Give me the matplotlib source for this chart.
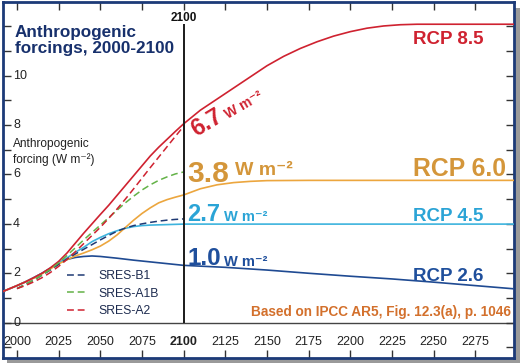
"""
Anthropogenic forcing pathways (RCPs and SRES), redrawn after IPCC AR5 Fig. 12.3(a).
"""
import numpy as np
import matplotlib
matplotlib.use("Agg")
import matplotlib.pyplot as plt
from matplotlib.patches import Rectangle

FONT = ["Liberation Sans", "DejaVu Sans"]

# ── data ───────────────────────────────────────────────────────────────────
rcp85_years = [1990, 2000, 2005, 2010, 2015, 2020, 2025, 2030, 2035, 2040, 2045,
               2050, 2055, 2060, 2065, 2070, 2075, 2080, 2085, 2090, 2095, 2100,
               2110, 2120, 2130, 2140, 2150, 2160, 2170, 2180, 2190, 2200, 2210,
               2220, 2230, 2240, 2250, 2300]
rcp85 = [1.22, 1.50, 1.65, 1.82, 2.00, 2.22, 2.48, 2.82, 3.22, 3.62, 4.00,
         4.38, 4.75, 5.15, 5.55, 5.95, 6.35, 6.75, 7.10, 7.42, 7.74, 8.05,
         8.60, 9.05, 9.50, 9.95, 10.40, 10.78, 11.10, 11.37, 11.60, 11.78, 11.92,
         12.01, 12.06, 12.08, 12.08, 12.08]

rcp60_years = [1990, 2000, 2005, 2010, 2015, 2020, 2025, 2030, 2035, 2040, 2045,
               2050, 2055, 2060, 2065, 2070, 2075, 2080, 2085, 2090, 2095, 2100,
               2110, 2120, 2130, 2140, 2150, 2175, 2300]
rcp60 = [1.22, 1.50, 1.65, 1.80, 1.98, 2.18, 2.38, 2.55, 2.70, 2.82, 2.95,
         3.10, 3.30, 3.55, 3.85, 4.15, 4.42, 4.65, 4.85, 4.98, 5.08, 5.17,
         5.42, 5.58, 5.67, 5.72, 5.75, 5.76, 5.76]

rcp45_years = [1990, 2000, 2005, 2010, 2015, 2020, 2025, 2030, 2035, 2040, 2045,
               2050, 2055, 2060, 2065, 2070, 2075, 2080, 2090, 2100, 2300]
rcp45 = [1.22, 1.50, 1.65, 1.82, 2.00, 2.20, 2.42, 2.62, 2.85, 3.05, 3.28,
         3.45, 3.60, 3.72, 3.82, 3.89, 3.93, 3.95, 3.97, 3.99, 3.99]

rcp26_years = [1990, 2000, 2005, 2010, 2015, 2020, 2025, 2030, 2035, 2040, 2045,
               2050, 2060, 2070, 2080, 2090, 2100, 2125, 2150, 2175, 2200, 2225,
               2250, 2275, 2300]
rcp26 = [1.22, 1.50, 1.65, 1.82, 2.00, 2.20, 2.42, 2.56, 2.64, 2.68, 2.70,
         2.68, 2.61, 2.53, 2.46, 2.39, 2.32, 2.24, 2.13, 2.00, 1.88, 1.77,
         1.64, 1.50, 1.36]

sres_years = [2000, 2005, 2010, 2015, 2020, 2025, 2030, 2035, 2040, 2045, 2050,
              2055, 2060, 2065, 2070, 2075, 2080, 2085, 2090, 2095, 2100]
sres_b1 = [1.38, 1.55, 1.72, 1.92, 2.13, 2.36, 2.58, 2.78, 2.97, 3.16, 3.35,
           3.53, 3.70, 3.83, 3.93, 4.00, 4.06, 4.11, 4.15, 4.18, 4.20]
sres_a1b = [1.38, 1.55, 1.72, 1.93, 2.15, 2.42, 2.72, 3.03, 3.35, 3.65, 3.95,
            4.25, 4.55, 4.85, 5.12, 5.37, 5.58, 5.76, 5.90, 6.02, 6.10]
sres_a2 = [1.38, 1.50, 1.65, 1.82, 2.03, 2.28, 2.56, 2.87, 3.20, 3.53, 3.86,
           4.22, 4.60, 5.00, 5.42, 5.85, 6.28, 6.70, 7.12, 7.54, 7.95]

sres_labels = ["SRES-B1", "SRES-A1B", "SRES-A2"]
rcp_names = ["RCP 8.5", "RCP 6.0", "RCP 4.5", "RCP 2.6"]
forcing_2100 = ["6.7", "3.8", "2.7", "1.0"]

x_ticks = list(range(2000, 2300, 25))
y_ticks = list(range(-1, 13))
y_tick_labels = [0, 2, 4, 6, 8, 10]
SPLIT_YEAR = 2100

# ── colours ────────────────────────────────────────────────────────────────
C_RED = "#cf2230"
C_ORANGE = "#eca63e"
C_LBLUE = "#3db3dd"
C_NAVY = "#1f4a92"
C_DNAVY = "#1f3a74"
C_GREEN = "#63b247"
T_ORANGE = "#d4963a"
T_LBLUE = "#2ba4d6"
T_NAVY = "#1f4f9c"
T_NOTE = "#d3702c"
FRAME = "#1c3a78"
UNIT = "W m\u207b\u00b2"

# ── figure ─────────────────────────────────────────────────────────────────
W, H = 522, 364
fig = plt.figure(figsize=(W / 100, H / 100), dpi=100)
fig.patch.set_facecolor("white")

# drop shadow behind the framed panel
fig.patches.append(Rectangle((7 / W, 1 / H), 513 / W, 355 / H, transform=fig.transFigure,
                             facecolor="#9a9a9a", edgecolor="none", zorder=-5))

ax = fig.add_axes([3 / W, 6 / H, 511 / W, 356 / H])
ax.set_zorder(1)
ax.set_facecolor("white")
ax.set_xlim(1991.6, 2298.2)
ax.set_ylim(-1.43, 12.98)

for sp in ax.spines.values():
    sp.set_color(FRAME)
    sp.set_linewidth(2.0)

ax.set_xticks(x_ticks)
ax.set_yticks(y_ticks)
ax.tick_params(direction="in", length=5.5, width=1.0, color="#333333",
               top=True, right=True, labelbottom=False, labelleft=False)

# tick labels sit inside the frame
for yv in y_tick_labels:
    ax.text(0.0196, yv, str(yv), transform=ax.get_yaxis_transform(), ha="left",
            va="center", fontsize=9, family=FONT, color="#222222")
for xv in x_ticks:
    ax.text(xv, 0.045, str(xv), transform=ax.get_xaxis_transform(), ha="center",
            va="center", fontsize=9, family=FONT, color="#222222",
            fontweight="bold" if xv == SPLIT_YEAR else "normal")
ax.text(SPLIT_YEAR, 0.956, str(SPLIT_YEAR), transform=ax.get_xaxis_transform(),
        ha="center", va="center", fontsize=8.5, family=FONT, fontweight="bold",
        color="#111111")

ax.axhline(0, color="#444444", lw=1.0, zorder=1)
ax.vlines(SPLIT_YEAR, 0, 12.1, color="#1a1a1a", lw=1.4, zorder=4)

# RCP curves
ax.plot(rcp26_years, rcp26, color=C_NAVY, lw=1.2, zorder=3)
ax.plot(rcp45_years, rcp45, color=C_LBLUE, lw=1.2, zorder=3)
ax.plot(rcp60_years, rcp60, color=C_ORANGE, lw=1.2, zorder=3)
ax.plot(rcp85_years, rcp85, color=C_RED, lw=1.2, zorder=3)

# SRES scenarios (dashed, to 2100)
ax.plot(sres_years, sres_b1, color=C_DNAVY, lw=1.1, dashes=(4.5, 2.5),
        label=sres_labels[0], zorder=3)
ax.plot(sres_years, sres_a1b, color=C_GREEN, lw=1.1, dashes=(4.5, 2.5),
        label=sres_labels[1], zorder=3)
ax.plot(sres_years, sres_a2, color=C_RED, lw=1.1, dashes=(4.5, 2.5),
        label=sres_labels[2], zorder=3)

leg = ax.legend(loc="upper left", bbox_to_anchor=(0.125, 0.247), frameon=False,
                borderpad=0, borderaxespad=0, handlelength=1.75, handletextpad=0.8,
                labelspacing=0.45, prop={"family": FONT, "size": 8.8})
for t in leg.get_texts():
    t.set_color("#1d2b4f")

# title and axis label
ax.text(0.0235, 0.936, "Anthropogenic\nforcings, 2000-2100", transform=ax.transAxes,
        ha="left", va="top", fontsize=12.3, family=FONT, fontweight="bold",
        color="#17306c", linespacing=1.08)
ax.text(0.0196, 0.547, "Anthropogenic\nforcing (" + UNIT + ")", transform=ax.transAxes,
        ha="left", va="baseline", fontsize=8.6, family=FONT, color="#222222",
        linespacing=1.3)

# 2100 forcing values
num_x = 2102.2
ax.annotate(forcing_2100[0], (2107.4, 7.52), rotation=31, rotation_mode="anchor",
            ha="left", va="baseline", fontsize=17, family=FONT, fontweight="bold",
            color=C_RED)
ax.annotate(UNIT, (2107.4, 7.52), xytext=(23.0, 13.0), textcoords="offset points",
            rotation=30, rotation_mode="anchor", ha="left", va="baseline",
            fontsize=10, family=FONT, fontweight="bold", color=C_RED)

ax.annotate(forcing_2100[1], (num_x, 5.71), ha="left", va="baseline", fontsize=21.5,
            family=FONT, fontweight="bold", color=T_ORANGE)
ax.annotate(UNIT, (num_x, 5.71), xytext=(34.5, 4.5), textcoords="offset points",
            ha="left", va="baseline", fontsize=14, family=FONT, fontweight="bold",
            color=T_ORANGE)

ax.annotate(forcing_2100[2], (num_x, 4.13), ha="left", va="baseline", fontsize=17,
            family=FONT, fontweight="bold", color=T_LBLUE)
ax.annotate(UNIT, (num_x, 4.13), xytext=(26.5, 0), textcoords="offset points",
            ha="left", va="baseline", fontsize=10.5, family=FONT, fontweight="bold",
            color=T_LBLUE)

ax.annotate(forcing_2100[3], (num_x, 2.34), ha="left", va="baseline", fontsize=17.5,
            family=FONT, fontweight="bold", color=T_NAVY)
ax.annotate(UNIT, (num_x, 2.34), xytext=(26.5, -1), textcoords="offset points",
            ha="left", va="baseline", fontsize=10.5, family=FONT, fontweight="bold",
            color=T_NAVY)

# RCP names at the right
lab_x = 2237.6
ax.text(lab_x, 11.28, rcp_names[0], ha="left", va="baseline", fontsize=13.5,
        family=FONT, fontweight="bold", color=C_RED)
ax.text(lab_x, 5.94, rcp_names[1], ha="left", va="baseline", fontsize=17.8,
        family=FONT, fontweight="bold", color=T_ORANGE)
ax.text(lab_x, 4.10, rcp_names[2], ha="left", va="baseline", fontsize=13.5,
        family=FONT, fontweight="bold", color=T_LBLUE)
ax.text(lab_x, 1.68, rcp_names[3], ha="left", va="baseline", fontsize=13.5,
        family=FONT, fontweight="bold", color=T_NAVY)

ax.text(2296.4, 0.27, "Based on IPCC AR5, Fig. 12.3(a), p. 1046", ha="right",
        va="baseline", fontsize=9.8, family=FONT, fontweight="bold", color=T_NOTE)

fig.savefig("out.png", dpi=100, facecolor="white")
plt.close(fig)
